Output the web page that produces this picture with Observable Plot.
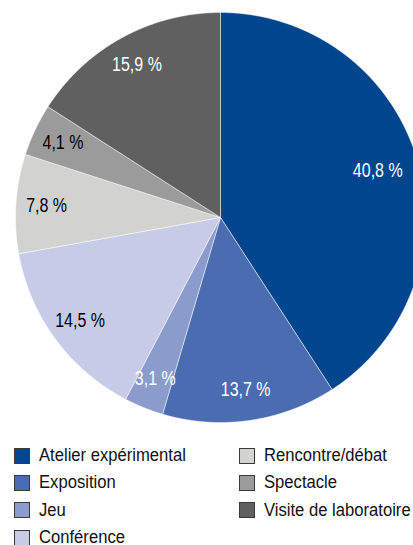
<!DOCTYPE html>
<html>
<head>
<meta charset="utf-8">
<script src="https://cdn.jsdelivr.net/npm/d3@7"></script>
<script src="https://cdn.jsdelivr.net/npm/@observablehq/plot@0.6"></script>
<style>
  html, body { margin: 0; padding: 0; background: #fff; }
  body { width: 413px; height: 545px; overflow: hidden;
         font-family: "Liberation Sans", Arial, sans-serif; }
  #chart svg { display: block; overflow: visible; }
  #legend { display: grid; grid-auto-flow: column; grid-template-rows: repeat(4, 27.3px);
            grid-template-columns: 225px 180px; margin: 10px 0 0 14px; color: #111; font-size: 17.5px; }
  .item { display: flex; align-items: center; white-space: nowrap; }
  .sw { width: 14px; height: 14px; border: 1px solid #3a3a3a; margin-right: 9px; flex: none; }
  .lab { display: inline-block; transform: scaleX(0.95); transform-origin: left center; }
</style>
</head>
<body>
<div id="chart"></div>
<div id="legend"></div>
<script>
const categories = ["Atelier expérimental", "Exposition", "Jeu", "Conférence", "Rencontre/débat", "Spectacle", "Visite de laboratoire"];
const shares = [40.8, 13.7, 3.1, 14.5, 7.8, 4.1, 15.9];
const colors = ["#00468f", "#4a6cb0", "#8b9bcc", "#c6cbe7", "#d2d3d1", "#9b9b9b", "#606060"];
const labelInk = ["white", "white", "white", "black", "black", "black", "white"];

const rows = categories.map((c, i) => ({cat: c, share: shares[i], ink: labelInk[i]}));
const arcs = d3.pie().sort(null).value(d => d.share)(rows);

// polygon outlines of slices (unit circle, angle clockwise from 12 o'clock)
const poly = [];
for (const a of arcs) {
  const n = Math.max(2, Math.ceil((a.endAngle - a.startAngle) / 0.004));
  poly.push({cat: a.data.cat, x: 0, y: 0});
  for (let k = 0; k <= n; k++) {
    const t = a.startAngle + (a.endAngle - a.startAngle) * k / n;
    poly.push({cat: a.data.cat, x: Math.sin(t), y: Math.cos(t)});
  }
  poly.push({cat: a.data.cat, x: 0, y: 0});
}

const maxShare = d3.max(shares);
const labels = arcs.map(a => {
  const m = (a.startAngle + a.endAngle) / 2;
  const r = a.data.share === maxShare ? 0.8 : 0.85;
  return {x: r * Math.sin(m), y: r * Math.cos(m),
          text: a.data.share.toFixed(1).replace(".", ",") + " %", ink: a.data.ink};
});

const chart = Plot.plot({
  width: 413, height: 432,
  marginLeft: 15, marginRight: 0, marginTop: 12, marginBottom: 10,
  x: {domain: [-1, 398 / 205 - 1], axis: null},
  y: {domain: [-1, 1], axis: null},
  color: {domain: categories, range: colors},
  style: {fontFamily: "'Liberation Sans', Arial, sans-serif"},
  marks: [
    Plot.line(poly, {x: "x", y: "y", z: "cat", fill: "cat", stroke: "white", strokeWidth: 0.6, strokeOpacity: 0.8}),
    Plot.text(labels, {x: "x", y: "y", text: "text", fill: "ink", fontSize: 19.5})
  ]
});
// condense the label glyphs horizontally
chart.querySelectorAll('g[aria-label="text"] text').forEach(t => {
  const tr = t.getAttribute("transform");
  if (tr) t.setAttribute("transform", tr + " scale(0.82,1)");
});
document.getElementById("chart").appendChild(chart);

const legend = document.getElementById("legend");
categories.forEach((c, i) => {
  const it = document.createElement("div");
  it.className = "item";
  const sw = document.createElement("span");
  sw.className = "sw";
  sw.style.background = colors[i];
  const lab = document.createElement("span");
  lab.className = "lab";
  lab.textContent = c;
  it.appendChild(sw);
  it.appendChild(lab);
  legend.appendChild(it);
});
</script>
</body>
</html>
